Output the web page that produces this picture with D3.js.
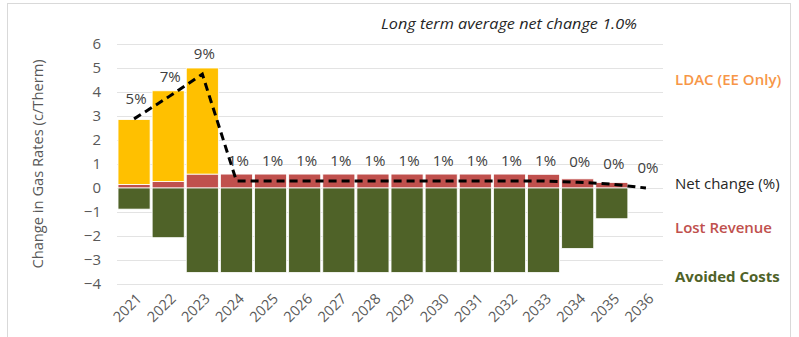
<!DOCTYPE html>
<html><head><meta charset="utf-8">
<script src="https://cdn.jsdelivr.net/npm/d3@7"></script>
<style>body{margin:0;background:#fff}svg{display:block}text{font-family:"Open Sans",sans-serif}</style>
</head><body>
<svg id="c" width="799" height="337"></svg>
<script>
const years = ["2021","2022","2023","2024","2025","2026","2027","2028","2029","2030","2031","2032","2033","2034","2035","2036"];
const lostRevenue = [0.15,0.27,0.58,0.58,0.58,0.58,0.58,0.58,0.58,0.58,0.58,0.58,0.57,0.38,0.23,0];
const ldac = [2.7,3.78,4.42,0,0,0,0,0,0,0,0,0,0,0,0,0];
const avoidedCosts = [-0.88,-2.07,-3.52,-3.52,-3.52,-3.52,-3.52,-3.52,-3.52,-3.52,-3.52,-3.52,-3.52,-2.52,-1.28,0];
const netPct = [5.4,7.1,8.9,0.55,0.55,0.55,0.55,0.55,0.55,0.55,0.55,0.55,0.55,0.45,0.3,0.0];
const netLabels = ["5%","7%","9%","1%","1%","1%","1%","1%","1%","1%","1%","1%","1%","0%","0%","0%"];
const yTicks = [-4,-3,-2,-1,0,1,2,3,4,5,6];

const FF = "'Open Sans',sans-serif";
const svg = d3.select("#c");
svg.append("rect").attr("x",7.5).attr("y",3.5).attr("width",783).attr("height",340)
  .attr("fill","none").attr("stroke","#D9D9D9");

const x = d3.scaleBand().domain(years).range([117,663]).paddingInner(0.06).paddingOuter(0.03);
const y = d3.scaleLinear().domain([-4,6]).range([284,44]);
const y2 = d3.scaleLinear().domain([-7.5,11.25]).range([284,44]);

// gridlines
svg.append("g").selectAll("line").data(yTicks).join("line")
  .attr("x1",117).attr("x2",663).attr("y1",d=>y(d)+0.5).attr("y2",d=>y(d)+0.5)
  .attr("stroke","#E3E3E3").attr("stroke-width",1);

// y axis
const ya = svg.append("g").attr("transform","translate(101,0)")
  .call(d3.axisLeft(y).tickValues(yTicks).tickSize(0).tickPadding(0).tickFormat(d3.format("d")));
ya.select(".domain").remove();
ya.selectAll("text").attr("fill","#595959").attr("font-size",15).style("font-family",FF);

svg.append("text").attr("transform","translate(43,164) rotate(-90)").attr("text-anchor","middle")
  .attr("fill","#595959").attr("font-size",14.7).text("Change in Gas Rates (c/Therm)");

// x axis labels
const xa = svg.append("g").attr("transform","translate(0,292)")
  .call(d3.axisBottom(x).tickSize(0).tickPadding(0));
xa.select(".domain").remove();
xa.selectAll("text").attr("fill","#595959").attr("font-size",14.5).style("font-family",FF)
  .attr("text-anchor","end").attr("dy","0.35em").attr("dx","0")
  .attr("transform","translate(5,4) rotate(-45)");

// bars
const bars = svg.append("g");
const stroke = "#fff";
bars.selectAll(".lr").data(years).join("rect")
  .attr("x",d=>x(d)).attr("width",x.bandwidth())
  .attr("y",(d,i)=>y(lostRevenue[i])).attr("height",(d,i)=>y(0)-y(lostRevenue[i]))
  .attr("fill","#C0504D").attr("stroke",stroke).attr("stroke-width",0.8);
bars.selectAll(".ld").data(years.filter((d,i)=>ldac[i]>0)).join("rect")
  .attr("x",d=>x(d)).attr("width",x.bandwidth())
  .attr("y",d=>{const i=years.indexOf(d);return y(lostRevenue[i]+ldac[i]);})
  .attr("height",d=>{const i=years.indexOf(d);return y(lostRevenue[i])-y(lostRevenue[i]+ldac[i]);})
  .attr("fill","#FFC000").attr("stroke",stroke).attr("stroke-width",0.8);
bars.selectAll(".ac").data(years).join("rect")
  .attr("x",d=>x(d)).attr("width",x.bandwidth())
  .attr("y",y(0)).attr("height",(d,i)=>y(avoidedCosts[i])-y(0))
  .attr("fill","#4F6228").attr("stroke",stroke).attr("stroke-width",0.8);

// net change line
const line = d3.line().x((d,i)=>x(years[i])+x.bandwidth()/2).y(d=>y2(d));
svg.append("path").datum(netPct).attr("d",line).attr("fill","none")
  .attr("stroke","#000").attr("stroke-width",3).attr("stroke-dasharray","8,5");

svg.append("g").selectAll("text").data(netPct).join("text")
  .attr("x",(d,i)=>x(years[i])+x.bandwidth()/2+2).attr("y",d=>y2(d)-15)
  .attr("text-anchor","middle").attr("fill","#404040").attr("font-size",15)
  .text((d,i)=>netLabels[i]);

// annotation
svg.append("text").attr("x",381).attr("y",29).attr("font-size",14).attr("font-style","italic")
  .attr("fill","#262626").attr("textLength",256).attr("lengthAdjust","spacingAndGlyphs")
  .text("Long term average net change 1.0%");

// legend labels
const leg = [
  {t:"LDAC (EE Only)",c:"#F79646",y:85,w:600},
  {t:"Net change (%)",c:"#262626",y:189,w:400},
  {t:"Lost Revenue",c:"#C0504D",y:233,w:600},
  {t:"Avoided Costs",c:"#4F6228",y:282,w:700}
];
svg.append("g").selectAll("text").data(leg).join("text")
  .attr("x",675).attr("y",d=>d.y).attr("font-size",15).attr("font-weight",d=>d.w)
  .attr("fill",d=>d.c).text(d=>d.t);
</script>
</body></html>
